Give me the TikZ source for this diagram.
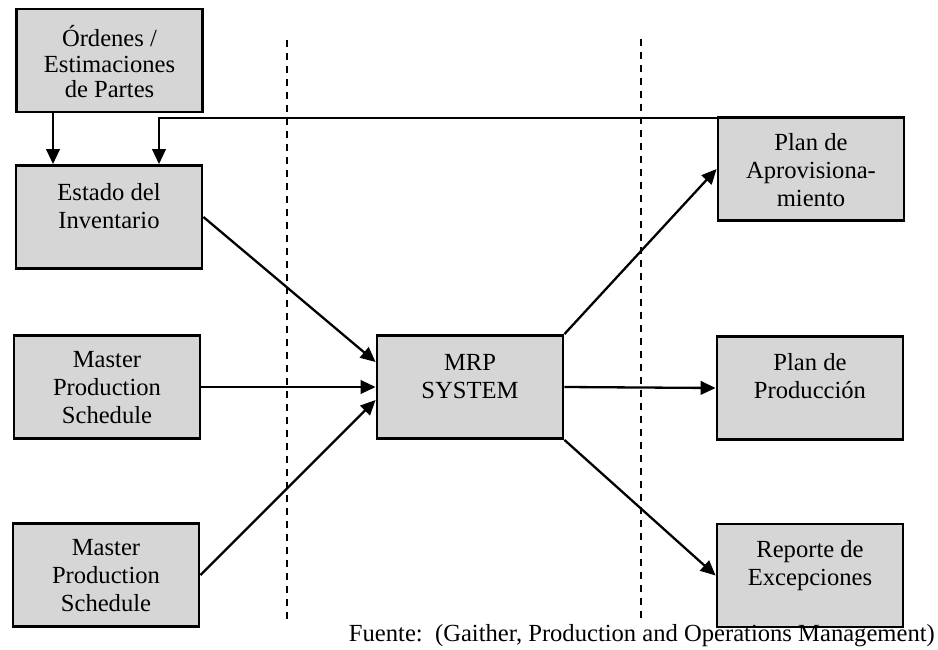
\documentclass[tikz,border=0pt]{standalone}
\usepackage{fontspec}
\setmainfont{Liberation Serif}
\usetikzlibrary{arrows.meta,calc}
\newcommand\boxfont{\fontsize{24.6}{28.3}\selectfont}
\definecolor{boxgray}{gray}{0.84}

\begin{document}
\begin{tikzpicture}[x=1pt,y=-1pt,
  box/.style={draw, line width=2.8pt, fill=boxgray, minimum width=186pt,
    minimum height=103pt, inner sep=0pt},
  lbl/.style={anchor=north, inner sep=0pt, align=center, font=\boxfont},
  arr/.style={line width=2.3pt, -{Triangle[length=15pt,width=13.5pt]}},
  sep/.style={line width=1.6pt, dash pattern=on 7pt off 6pt}]
\useasboundingbox (0,0) rectangle (938,650);

% input boxes
\node[box] (ord)  at (109.5,60.5) {};
\node[box] (est)  at (109,217) {};
\node[box] (mps1) at (107,387) {};
\node[box] (mps2) at (106,575) {};
% central system
\node[box] (mrp)  at (470,387) {};
% output boxes
\node[box] (apr)  at (811,169) {};
\node[box] (prod) at (810,388) {};
\node[box] (rep)  at (810,575.5) {};

% box texts, first baseline about 34pt below the top edge
\node[lbl, font=\fontsize{24.6}{25.5}\selectfont] (ordt) at ([yshift=-18pt]ord.north) {\strut\'Ordenes /\\Estimaciones\\de Partes};
\node[lbl] (estt)  at ([yshift=-16pt]est.north)  {\strut Estado del\\Inventario};
\node[lbl] (mps1t) at ([yshift=-13pt]mps1.north) {\strut Master\\Production\\Schedule};
\node[lbl] (mps2t) at ([yshift=-13pt]mps2.north) {\strut Master\\Production\\Schedule};
\node[lbl] (mrpt)  at ([yshift=-16pt]mrp.north)  {\strut MRP\\SYSTEM};
\node[lbl] (aprt)  at ([yshift=-14pt]apr.north)  {\strut Plan de\\Aprovisiona-\\miento};
\node[lbl] (prodt) at ([yshift=-15pt]prod.north) {\strut Plan de\\Producci\'on};
\node[lbl] (rept)  at ([yshift=-15pt]rep.north)  {\strut Reporte de\\Excepciones};

% dashed separators
\draw[sep] (287,40) -- (287,623);
\draw[sep] (641,39) -- (641,622);

% connectors
\coordinate (c1) at (53,0);
\coordinate (c2) at (159,0);
\draw[arr] (ord.south -| c1) -- (est.north -| c1);
\draw[arr] ([yshift=-2pt]apr.north west) -| (est.north -| c2);
\draw[arr] (est.east) -- ([yshift=25pt]mrp.west);
\draw[arr] (mps1.east) -- (mrp.west);
\draw[arr] (mps2.east) -- ([yshift=-13pt]mrp.west);
\draw[arr] (mrp.north east) -- (apr.west);
\draw[arr] (mrp.east) -- (prod.west);
\draw[arr] (mrp.south east) -- (rep.west);

% source note
\node[anchor=base east, inner sep=0pt, font=\boxfont] (src) at (935,641)
  {Fuente:\ \ (Gaither, Production and Operations Management)};
\end{tikzpicture}
\end{document}
